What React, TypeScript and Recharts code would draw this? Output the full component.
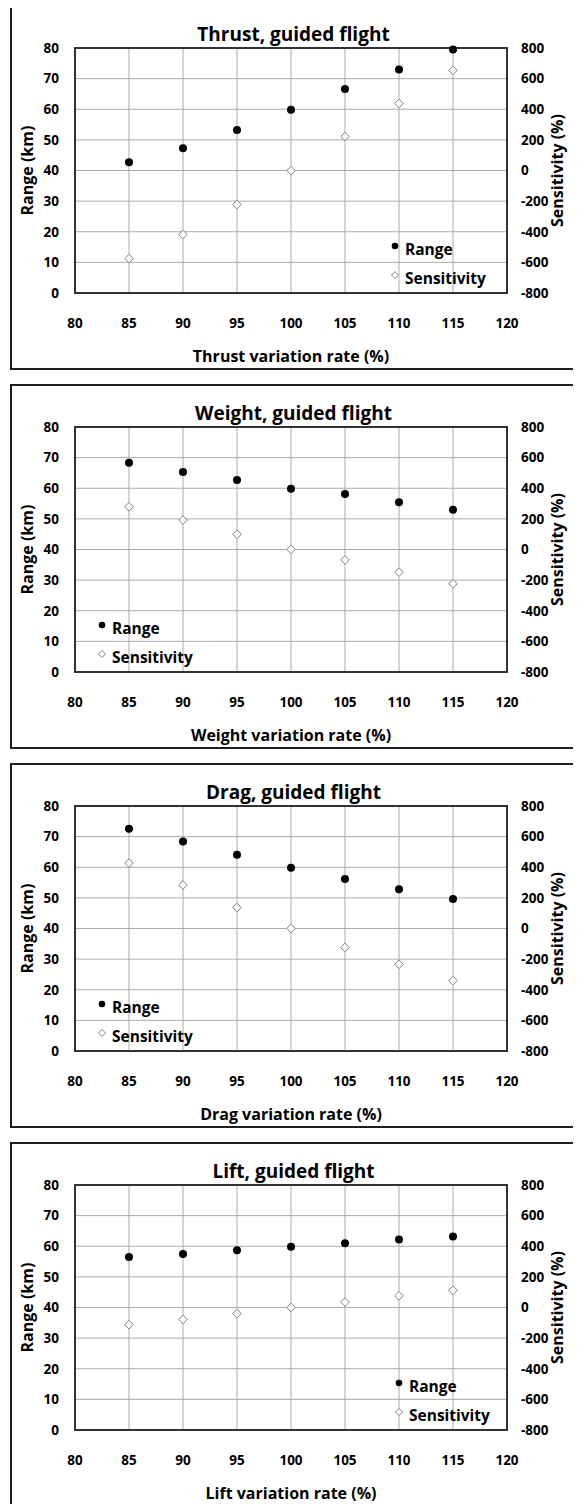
import { ScatterChart, Scatter, XAxis, YAxis, CartesianGrid, ReferenceArea, Legend, Label } from 'recharts';

const FONT = '"Open Sans", "Noto Sans", sans-serif';

// variation rate (%) on x
const xValues = [85, 90, 95, 100, 105, 110, 115];
const xTicks = [80, 85, 90, 95, 100, 105, 110, 115, 120];
const rangeTicks = [0, 10, 20, 30, 40, 50, 60, 70, 80];
const sensTicks = [-800, -600, -400, -200, 0, 200, 400, 600, 800];

const thrustRange = [42.7, 47.3, 53.2, 59.8, 66.6, 73.0, 79.5];
const thrustSensitivity = [-575, -418, -222, 0, 222, 438, 654];
const weightRange = [68.3, 65.3, 62.7, 59.8, 58.1, 55.4, 53.0];
const weightSensitivity = [279, 192, 100, 0, -68, -148, -224];
const dragRange = [72.6, 68.4, 64.1, 59.8, 56.2, 52.8, 49.6];
const dragSensitivity = [427, 284, 137, 0, -124, -234, -340];
const liftRange = [56.5, 57.5, 58.7, 59.8, 61.0, 62.2, 63.2];
const liftSensitivity = [-112, -78, -40, 0, 36, 76, 112];

const tickStyle = { fill: '#000', fontSize: 13.5, fontWeight: 700, fontFamily: FONT };

const DotShape = (p: any) => <circle cx={p.cx} cy={p.cy} r={4} fill="#000" />;
const DiamondShape = (p: any) => {
  const r = 4.3;
  return (
    <path
      d={`M${p.cx},${p.cy - r}L${p.cx + r},${p.cy}L${p.cx},${p.cy + r}L${p.cx - r},${p.cy}Z`}
      fill="#fff"
      stroke="#808080"
      strokeWidth={1}
    />
  );
};

const renderLegend = (props: any) => (
  <div style={{ fontFamily: FONT, fontWeight: 700, fontSize: 15.5, lineHeight: '29px', color: '#000' }}>
    {(props.payload || []).map((entry: any) => (
      <div key={entry.value} style={{ display: 'flex', alignItems: 'center', whiteSpace: 'nowrap' }}>
        <svg width={8} height={8} style={{ marginRight: 6, position: 'relative', top: -3 }}>
          {entry.type === 'diamond' ? (
            <path d="M4,0.5L7.5,4L4,7.5L0.5,4Z" fill="#fff" stroke="#808080" strokeWidth={1} />
          ) : (
            <circle cx={4} cy={4} r={3.3} fill="#000" />
          )}
        </svg>
        {entry.value}
      </div>
    ))}
  </div>
);

function Panel({ title, xTitle, range, sensitivity, legendLeft }: any) {
  const rows = xValues.map((x, i) => ({ x, range: range[i], sensitivity: sensitivity[i] }));
  return (
    <div
      style={{
        position: 'relative',
        width: 567,
        height: 365,
        border: '2px solid #1e1e1e',
        boxSizing: 'border-box',
        marginBottom: 14,
        background: '#fff',
      }}
    >
      <div
        style={{
          position: 'absolute',
          top: 15,
          left: 0,
          width: '100%',
          textAlign: 'center',
          fontFamily: FONT,
          fontWeight: 700,
          fontSize: 19,
          lineHeight: '24px',
          zIndex: 2,
        }}
      >
        {title}
      </div>
      <ScatterChart width={563} height={361} margin={{ top: 41, right: 0, bottom: 0, left: 0 }}>
        <CartesianGrid stroke="#ababab" />
        <XAxis
          type="number"
          dataKey="x"
          domain={[80, 120]}
          ticks={xTicks}
          height={75}
          axisLine={false}
          tickLine={false}
          tickMargin={19}
          tick={tickStyle}
        >
          <Label value={xTitle} position="insideBottom" offset={6.5} fill="#000" fontSize={16} fontWeight={700} fontFamily={FONT} />
        </XAxis>
        <YAxis
          type="number"
          dataKey="range"
          domain={[0, 80]}
          ticks={rangeTicks}
          width={63}
          axisLine={false}
          tickLine={false}
          tickMargin={10}
          tick={tickStyle}
        >
          <Label
            value="Range (km)"
            angle={-90}
            position="insideLeft"
            offset={15}
            fill="#000"
            fontSize={16}
            fontWeight={700}
            fontFamily={FONT}
            style={{ textAnchor: 'middle' }}
          />
        </YAxis>
        <YAxis
          yAxisId="right"
          orientation="right"
          type="number"
          dataKey="sensitivity"
          domain={[-800, 800]}
          ticks={sensTicks}
          width={68}
          axisLine={false}
          tickLine={false}
          tickMargin={8}
          tick={tickStyle}
        >
          <Label
            value="Sensitivity (%)"
            angle={-90}
            position="insideRight"
            offset={9}
            dx={-9}
            fill="#000"
            fontSize={16}
            fontWeight={700}
            fontFamily={FONT}
            style={{ textAnchor: 'middle' }}
          />
        </YAxis>
        <ReferenceArea x1={80} x2={120} y1={0} y2={80} fill="none" stroke="#333" strokeWidth={2} />
        <Legend
          layout="vertical"
          align="center"
          verticalAlign="middle"
          content={renderLegend}
          wrapperStyle={{ left: legendLeft, top: 227.5, width: 'auto' }}
        />
        <Scatter name="Range" data={rows} legendType="circle" shape={DotShape} isAnimationActive={false} />
        <Scatter
          name="Sensitivity"
          data={rows}
          yAxisId="right"
          legendType="diamond"
          shape={DiamondShape}
          isAnimationActive={false}
        />
      </ScatterChart>
    </div>
  );
}

export default function App() {
  return (
    <div style={{ marginLeft: 2, marginTop: -3 }}>
      <Panel title="Thrust, guided flight" xTitle="Thrust variation rate (%)" range={thrustRange} sensitivity={thrustSensitivity} legendLeft={379} />
      <Panel title="Weight, guided flight" xTitle="Weight variation rate (%)" range={weightRange} sensitivity={weightSensitivity} legendLeft={86} />
      <Panel title="Drag, guided flight" xTitle="Drag variation rate (%)" range={dragRange} sensitivity={dragSensitivity} legendLeft={86} />
      <Panel title="Lift, guided flight" xTitle="Lift variation rate (%)" range={liftRange} sensitivity={liftSensitivity} legendLeft={383} />
    </div>
  );
}
